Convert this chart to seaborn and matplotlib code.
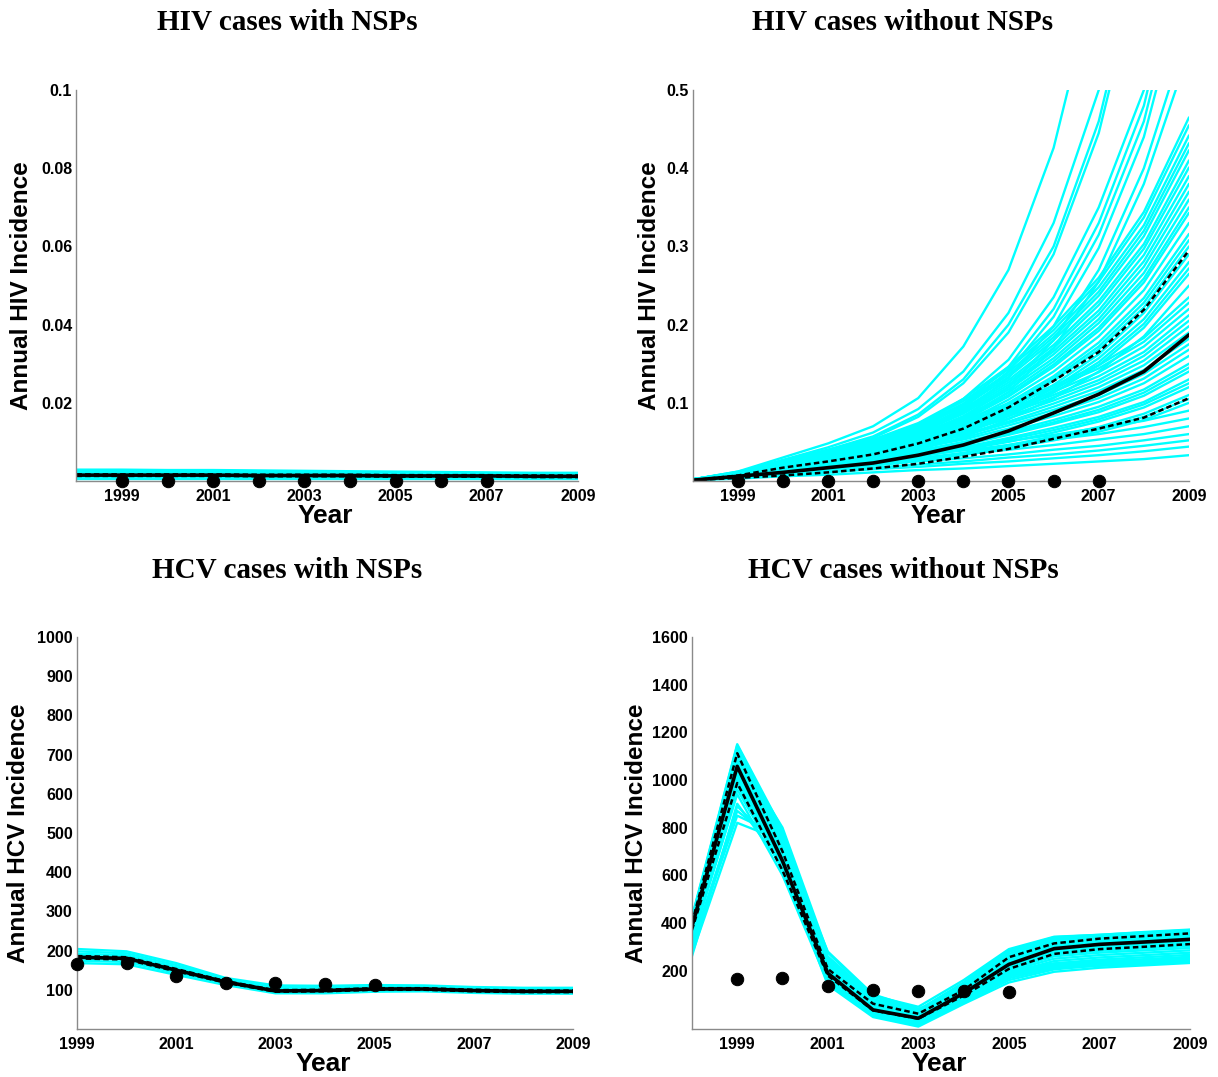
import matplotlib
matplotlib.use("Agg")
import matplotlib.pyplot as plt
import numpy as np
import pandas as pd
import seaborn as sns

# ---------------- data ----------------
years_full = [1998, 1999, 2000, 2001, 2002, 2003, 2004, 2005, 2006, 2007, 2008, 2009]
years_hcv_nsp = [1999, 2000, 2001, 2002, 2003, 2004, 2005, 2006, 2007, 2008, 2009]

hiv_obs_years = [1999, 2000, 2001, 2002, 2003, 2004, 2005, 2006, 2007]
hiv_obs = [0, 0, 0, 0, 0, 0, 0, 0, 0]
hcv_obs_years = [1999, 2000, 2001, 2002, 2003, 2004, 2005]
hcv_obs = [166, 168, 135, 118, 116, 114, 112]

# HIV with NSPs (simulation runs, median, 95% bounds)
hiv_nsp_runs = [
    [0.0029, 0.0029, 0.0028, 0.0028, 0.0027, 0.0026, 0.0025, 0.0024, 0.0023, 0.0022, 0.0021, 0.0021],
    [0.0026, 0.0026, 0.0025, 0.0025, 0.0024, 0.0023, 0.0022, 0.0022, 0.0021, 0.0020, 0.0020, 0.0019],
    [0.0024, 0.0024, 0.0023, 0.0023, 0.0022, 0.0021, 0.0021, 0.0020, 0.0019, 0.0019, 0.0018, 0.0018],
    [0.0020, 0.0020, 0.0020, 0.0019, 0.0019, 0.0018, 0.0018, 0.0017, 0.0017, 0.0016, 0.0016, 0.0016],
    [0.0016, 0.0016, 0.0016, 0.0016, 0.0015, 0.0015, 0.0015, 0.0014, 0.0014, 0.0014, 0.0013, 0.0013],
    [0.0012, 0.0012, 0.0012, 0.0012, 0.0012, 0.0011, 0.0011, 0.0011, 0.0011, 0.0010, 0.0010, 0.0010],
    [0.0008, 0.0008, 0.0008, 0.0008, 0.0008, 0.0008, 0.0008, 0.0008, 0.0007, 0.0007, 0.0007, 0.0007],
    [0.0006, 0.0006, 0.0006, 0.0006, 0.0006, 0.0006, 0.0006, 0.0006, 0.0006, 0.0006, 0.0006, 0.0006],
]
hiv_nsp_median = [0.0015, 0.0015, 0.0015, 0.0015, 0.0014, 0.0014, 0.0014, 0.0013, 0.0013, 0.0013, 0.0012, 0.0012]
hiv_nsp_upper = [0.0017, 0.0017, 0.0017, 0.0017, 0.0016, 0.0016, 0.0016, 0.0015, 0.0015, 0.0015, 0.0014, 0.0014]
hiv_nsp_lower = [0.0013, 0.0013, 0.0013, 0.0013, 0.0012, 0.0012, 0.0012, 0.0011, 0.0011, 0.0011, 0.0010, 0.0010]

# HIV without NSPs
hiv_no_runs = [
    [0.002, 0.012, 0.030, 0.048, 0.070, 0.106, 0.172, 0.270, 0.426, 0.660, 1.000, 1.500],
    [0.002, 0.011, 0.027, 0.043, 0.062, 0.092, 0.140, 0.215, 0.330, 0.500, 0.760, 1.150],
    [0.002, 0.011, 0.026, 0.040, 0.057, 0.085, 0.130, 0.200, 0.300, 0.460, 0.700, 1.050],
    [0.002, 0.011, 0.025, 0.038, 0.055, 0.082, 0.125, 0.190, 0.290, 0.445, 0.680, 1.000],
    [0.002, 0.010, 0.022, 0.034, 0.048, 0.070, 0.105, 0.155, 0.235, 0.350, 0.500, 0.750],
    [0.002, 0.010, 0.021, 0.032, 0.046, 0.066, 0.098, 0.146, 0.220, 0.330, 0.480, 0.720],
    [0.002, 0.010, 0.020, 0.031, 0.044, 0.063, 0.093, 0.140, 0.210, 0.315, 0.460, 0.690],
    [0.002, 0.009, 0.020, 0.030, 0.042, 0.060, 0.088, 0.132, 0.198, 0.298, 0.440, 0.660],
    [0.002, 0.009, 0.019, 0.028, 0.040, 0.056, 0.082, 0.120, 0.180, 0.270, 0.400, 0.580],
    [0.002, 0.009, 0.018, 0.027, 0.038, 0.054, 0.078, 0.114, 0.170, 0.255, 0.380, 0.550],
    [0.002, 0.011, 0.026, 0.040, 0.053, 0.074, 0.105, 0.146, 0.198, 0.260, 0.344, 0.465],
    [0.002, 0.011, 0.025, 0.039, 0.052, 0.073, 0.102, 0.143, 0.193, 0.255, 0.337, 0.455],
    [0.002, 0.011, 0.024, 0.038, 0.051, 0.071, 0.099, 0.139, 0.188, 0.248, 0.327, 0.442],
    [0.002, 0.010, 0.024, 0.037, 0.050, 0.069, 0.097, 0.136, 0.184, 0.242, 0.320, 0.432],
    [0.002, 0.010, 0.023, 0.036, 0.049, 0.068, 0.095, 0.133, 0.180, 0.237, 0.313, 0.423],
    [0.002, 0.010, 0.023, 0.035, 0.047, 0.066, 0.092, 0.129, 0.174, 0.230, 0.303, 0.410],
    [0.002, 0.010, 0.022, 0.034, 0.046, 0.064, 0.090, 0.126, 0.170, 0.225, 0.297, 0.401],
    [0.002, 0.009, 0.021, 0.033, 0.045, 0.062, 0.088, 0.123, 0.166, 0.218, 0.289, 0.390],
    [0.002, 0.009, 0.021, 0.032, 0.044, 0.061, 0.086, 0.120, 0.162, 0.213, 0.281, 0.380],
    [0.001, 0.009, 0.020, 0.031, 0.043, 0.059, 0.083, 0.117, 0.157, 0.207, 0.274, 0.370],
    [0.001, 0.009, 0.020, 0.031, 0.041, 0.058, 0.081, 0.113, 0.153, 0.202, 0.266, 0.360],
    [0.001, 0.008, 0.019, 0.030, 0.040, 0.056, 0.079, 0.110, 0.149, 0.196, 0.259, 0.350],
    [0.001, 0.008, 0.019, 0.029, 0.039, 0.055, 0.077, 0.108, 0.146, 0.192, 0.254, 0.343],
    [0.001, 0.008, 0.018, 0.028, 0.038, 0.053, 0.074, 0.104, 0.140, 0.185, 0.244, 0.330],
    [0.001, 0.008, 0.017, 0.027, 0.036, 0.051, 0.071, 0.100, 0.134, 0.177, 0.234, 0.316],
    [0.001, 0.007, 0.017, 0.026, 0.035, 0.049, 0.069, 0.097, 0.131, 0.172, 0.228, 0.308],
    [0.001, 0.007, 0.017, 0.026, 0.035, 0.048, 0.068, 0.095, 0.128, 0.168, 0.222, 0.300],
    [0.001, 0.007, 0.016, 0.025, 0.033, 0.046, 0.065, 0.091, 0.123, 0.162, 0.215, 0.290],
    [0.001, 0.007, 0.015, 0.024, 0.032, 0.045, 0.063, 0.088, 0.119, 0.157, 0.207, 0.280],
    [0.001, 0.007, 0.015, 0.023, 0.031, 0.044, 0.061, 0.086, 0.116, 0.152, 0.201, 0.272],
    [0.001, 0.006, 0.015, 0.023, 0.030, 0.042, 0.060, 0.083, 0.113, 0.148, 0.196, 0.265],
    [0.001, 0.006, 0.014, 0.021, 0.029, 0.040, 0.056, 0.079, 0.106, 0.140, 0.185, 0.250],
    [0.002, 0.012, 0.024, 0.035, 0.047, 0.061, 0.078, 0.099, 0.122, 0.148, 0.183, 0.235],
    [0.002, 0.011, 0.023, 0.034, 0.046, 0.059, 0.075, 0.096, 0.119, 0.144, 0.178, 0.228],
    [0.002, 0.011, 0.022, 0.033, 0.044, 0.057, 0.073, 0.092, 0.114, 0.139, 0.172, 0.220],
    [0.002, 0.011, 0.021, 0.032, 0.042, 0.055, 0.070, 0.089, 0.110, 0.134, 0.165, 0.212],
    [0.002, 0.010, 0.021, 0.031, 0.041, 0.053, 0.068, 0.086, 0.107, 0.129, 0.160, 0.205],
    [0.002, 0.010, 0.020, 0.030, 0.040, 0.051, 0.065, 0.083, 0.103, 0.125, 0.154, 0.198],
    [0.002, 0.010, 0.019, 0.029, 0.038, 0.049, 0.063, 0.080, 0.099, 0.120, 0.148, 0.190],
    [0.002, 0.009, 0.018, 0.027, 0.036, 0.047, 0.060, 0.076, 0.095, 0.115, 0.142, 0.182],
    [0.002, 0.009, 0.018, 0.026, 0.035, 0.046, 0.058, 0.074, 0.091, 0.110, 0.137, 0.175],
    [0.002, 0.008, 0.017, 0.025, 0.034, 0.044, 0.055, 0.071, 0.087, 0.106, 0.131, 0.168],
    [0.002, 0.008, 0.016, 0.024, 0.032, 0.042, 0.053, 0.067, 0.083, 0.101, 0.125, 0.160],
    [0.002, 0.008, 0.015, 0.023, 0.030, 0.039, 0.050, 0.063, 0.078, 0.095, 0.117, 0.150],
    [0.001, 0.007, 0.015, 0.022, 0.029, 0.038, 0.048, 0.061, 0.075, 0.091, 0.113, 0.145],
    [0.001, 0.007, 0.014, 0.021, 0.028, 0.036, 0.046, 0.059, 0.073, 0.088, 0.109, 0.140],
    [0.001, 0.007, 0.013, 0.020, 0.026, 0.034, 0.043, 0.055, 0.068, 0.082, 0.101, 0.130],
    [0.001, 0.006, 0.013, 0.019, 0.025, 0.033, 0.041, 0.053, 0.065, 0.079, 0.098, 0.125],
    [0.001, 0.006, 0.012, 0.018, 0.024, 0.031, 0.040, 0.050, 0.062, 0.076, 0.094, 0.120],
    [0.001, 0.006, 0.011, 0.017, 0.022, 0.029, 0.036, 0.046, 0.057, 0.069, 0.086, 0.110],
    [0.001, 0.005, 0.011, 0.016, 0.021, 0.027, 0.035, 0.044, 0.055, 0.066, 0.082, 0.105],
    [0.001, 0.005, 0.010, 0.015, 0.020, 0.026, 0.033, 0.042, 0.052, 0.063, 0.078, 0.100],
    [0.002, 0.008, 0.015, 0.023, 0.030, 0.037, 0.044, 0.051, 0.059, 0.068, 0.077, 0.090],
    [0.002, 0.007, 0.014, 0.020, 0.026, 0.033, 0.039, 0.046, 0.053, 0.060, 0.069, 0.080],
    [0.001, 0.006, 0.012, 0.018, 0.023, 0.029, 0.034, 0.040, 0.046, 0.053, 0.060, 0.070],
    [0.001, 0.005, 0.010, 0.015, 0.020, 0.025, 0.029, 0.034, 0.040, 0.045, 0.052, 0.060],
    [0.001, 0.005, 0.009, 0.013, 0.017, 0.021, 0.025, 0.030, 0.034, 0.039, 0.045, 0.052],
    [0.001, 0.004, 0.007, 0.011, 0.015, 0.018, 0.022, 0.025, 0.029, 0.033, 0.038, 0.044],
    [0.001, 0.003, 0.006, 0.008, 0.011, 0.014, 0.016, 0.019, 0.022, 0.025, 0.028, 0.033],
]
hiv_no_median = [0.001, 0.006, 0.011, 0.017, 0.023, 0.033, 0.046, 0.064, 0.087, 0.111, 0.140, 0.187]
hiv_no_upper = [0.001, 0.007, 0.017, 0.025, 0.034, 0.048, 0.067, 0.094, 0.128, 0.165, 0.219, 0.295]
hiv_no_lower = [0.001, 0.004, 0.007, 0.011, 0.016, 0.022, 0.031, 0.041, 0.054, 0.067, 0.081, 0.106]

# HCV with NSPs
hcv_nsp_runs = [
    [204, 198, 168, 130, 111, 110, 112, 111, 107, 105, 105],
    [198, 193, 163, 127, 107, 107, 109, 108, 104, 102, 102],
    [192, 188, 158, 124, 104, 104, 106, 106, 102, 100, 100],
    [186, 183, 153, 121, 100, 101, 103, 103, 100, 98, 98],
    [180, 177, 148, 118, 97, 98, 100, 101, 97, 95, 95],
    [174, 171, 143, 115, 94, 94, 97, 98, 94, 92, 92],
    [168, 165, 138, 112, 91, 91, 95, 96, 92, 90, 90],
]
hcv_nsp_median = [183, 180, 150, 120, 97, 98, 102, 102, 98, 96, 96]
hcv_nsp_upper = [186, 183, 153, 122, 99, 100, 104, 104, 100, 98, 98]
hcv_nsp_lower = [180, 177, 147, 118, 95, 96, 100, 100, 96, 94, 94]

# HCV without NSPs
hcv_no_runs = [
    [270, 820, 745, 280, 100, 40, 110, 190, 225, 235, 240, 245],
    [300, 850, 760, 260, 90, 35, 120, 200, 230, 240, 245, 250],
    [310, 870, 720, 250, 80, 28, 105, 185, 218, 228, 234, 240],
    [290, 890, 700, 230, 70, 20, 100, 180, 210, 220, 228, 235],
    [260, 900, 640, 140, 5, -35, 60, 150, 195, 212, 222, 232],
    [320, 940, 600, 150, 10, -30, 65, 160, 205, 222, 232, 242],
    [330, 960, 630, 155, 12, -26, 70, 168, 212, 230, 240, 250],
    [340, 980, 620, 160, 15, -22, 75, 175, 220, 238, 248, 258],
    [345, 990, 630, 165, 18, -18, 80, 182, 230, 246, 256, 266],
    [350, 1000, 640, 170, 22, -14, 85, 190, 240, 255, 265, 275],
    [358, 1015, 650, 174, 25, -10, 90, 198, 250, 265, 275, 285],
    [365, 1030, 660, 178, 28, -7, 95, 205, 260, 275, 285, 295],
    [370, 1040, 668, 182, 30, -4, 98, 210, 268, 283, 293, 303],
    [375, 1050, 675, 185, 33, -2, 102, 215, 275, 290, 300, 310],
    [380, 1058, 682, 188, 36, 1, 105, 220, 282, 296, 306, 316],
    [385, 1065, 690, 192, 38, 3, 108, 225, 288, 302, 312, 322],
    [390, 1075, 698, 196, 40, 6, 111, 230, 294, 308, 318, 328],
    [395, 1085, 705, 200, 43, 8, 114, 236, 300, 313, 323, 333],
    [400, 1095, 715, 205, 47, 11, 118, 242, 306, 319, 329, 339],
    [405, 1105, 725, 210, 50, 14, 122, 248, 312, 325, 335, 345],
    [410, 1115, 738, 216, 54, 18, 127, 255, 318, 330, 340, 350],
    [415, 1125, 750, 222, 58, 21, 132, 262, 325, 336, 346, 356],
    [418, 1135, 765, 230, 64, 25, 138, 270, 331, 341, 351, 361],
    [420, 1145, 780, 240, 70, 30, 145, 278, 337, 346, 356, 366],
    [425, 1150, 790, 250, 80, 35, 150, 285, 340, 350, 362, 372],
    [395, 1110, 800, 275, 95, 48, 160, 290, 342, 350, 360, 370],
]
hcv_no_median = [385, 1057, 660, 189, 35, 0, 105, 226, 292, 310, 320, 331]
hcv_no_upper = [400, 1112, 700, 207, 61, 19, 118, 256, 314, 334, 345, 356]
hcv_no_lower = [370, 987, 620, 179, 33, -2, 95, 207, 270, 290, 300, 311]

# ---------------- styling ----------------
sns.set_style("white")
plt.rcParams["font.family"] = ["Liberation Sans", "DejaVu Sans"]
plt.rcParams["text.color"] = "black"
plt.rcParams["axes.labelcolor"] = "black"

CYAN = "#00FFFF"
GRAY = "#8a8a8a"

fig = plt.figure(figsize=(12.18, 10.77), dpi=100)


def panel(rect, x, runs, med, up, lo, ox, oy, xlim, ylim, yticks, ylabels, ylab,
          title, title_xy, ylab_x):
    ax = fig.add_axes(rect)
    rows = [(i, xx, v) for i, r in enumerate(runs) for xx, v in zip(x, r)]
    df = pd.DataFrame(rows, columns=["run", "year", "value"])
    sns.lineplot(data=df, x="year", y="value", units="run", estimator=None,
                 color=CYAN, lw=1.7, ax=ax, legend=False)
    sns.lineplot(x=x, y=up, color="k", lw=1.8, ax=ax)
    ax.lines[-1].set_dashes([2.2, 1.3])
    sns.lineplot(x=x, y=lo, color="k", lw=1.8, ax=ax)
    ax.lines[-1].set_dashes([2.2, 1.3])
    sns.lineplot(x=x, y=med, color="k", lw=2.6, ax=ax)
    sns.scatterplot(x=ox, y=oy, color="k", s=80, edgecolor="k", ax=ax, zorder=6)
    for c in ax.collections:
        c.set_clip_on(False)
    ax.set_xlim(*xlim)
    ax.set_ylim(*ylim)
    ax.set_xticks([1999, 2001, 2003, 2005, 2007, 2009])
    ax.set_xticklabels(["1999", "2001", "2003", "2005", "2007", "2009"])
    ax.set_yticks(yticks)
    ax.set_yticklabels(ylabels)
    for s in ["top", "right"]:
        ax.spines[s].set_visible(False)
    for s in ["left", "bottom"]:
        ax.spines[s].set_color(GRAY)
        ax.spines[s].set_linewidth(1.0)
    ax.tick_params(direction="in", length=5, width=1, color=GRAY, labelsize=11.5,
                   pad=3, labelcolor="k")
    ax.tick_params(axis="x", pad=5.5)
    for t in ax.get_xticklabels() + ax.get_yticklabels():
        t.set_fontweight("bold")
    ax.set_xlabel("Year", fontsize=19, fontweight="bold")
    ax.set_ylabel(ylab, fontsize=17.5, fontweight="bold")
    ax.xaxis.set_label_coords(0.496, -0.058)
    ax.yaxis.set_label_coords(ylab_x, 0.5)
    fig.text(title_xy[0], title_xy[1], title, ha="center", va="center",
             fontsize=21, fontweight="bold", family="Liberation Serif", color="k")
    return ax


panel([0.0627, 0.5534, 0.4118, 0.3630], years_full, hiv_nsp_runs, hiv_nsp_median,
      hiv_nsp_upper, hiv_nsp_lower, hiv_obs_years, hiv_obs, (1998, 2009), (0, 0.1),
      [0.02, 0.04, 0.06, 0.08, 0.1], ["0.02", "0.04", "0.06", "0.08", "0.1"],
      "Annual HIV Incidence", "HIV cases with NSPs", (287 / 1218, 1 - 23 / 1077), -0.087)

panel([0.5686, 0.5534, 0.4076, 0.3630], years_full, hiv_no_runs, hiv_no_median,
      hiv_no_upper, hiv_no_lower, hiv_obs_years, hiv_obs, (1998, 2009), (0, 0.5),
      [0.1, 0.2, 0.3, 0.4, 0.5], ["0.1", "0.2", "0.3", "0.4", "0.5"],
      "Annual HIV Incidence", "HIV cases without NSPs", (903 / 1218, 1 - 23 / 1077), -0.064)

panel([0.0632, 0.0446, 0.4072, 0.3640], years_hcv_nsp, hcv_nsp_runs, hcv_nsp_median,
      hcv_nsp_upper, hcv_nsp_lower, hcv_obs_years, hcv_obs, (1999, 2009), (0, 1000),
      list(range(100, 1001, 100)), [str(v) for v in range(100, 1001, 100)],
      "Annual HCV Incidence", "HCV cases with NSPs", (287 / 1218, 1 - 570 / 1077), -0.095)

panel([0.5681, 0.0446, 0.4089, 0.3640], years_full, hcv_no_runs, hcv_no_median,
      hcv_no_upper, hcv_no_lower, hcv_obs_years, hcv_obs, (1998, 2009), (-45, 1600),
      list(range(200, 1601, 200)), [str(v) for v in range(200, 1601, 200)],
      "Annual HCV Incidence", "HCV cases without NSPs", (903 / 1218, 1 - 570 / 1077), -0.088)

fig.savefig("out.png", dpi=100)
